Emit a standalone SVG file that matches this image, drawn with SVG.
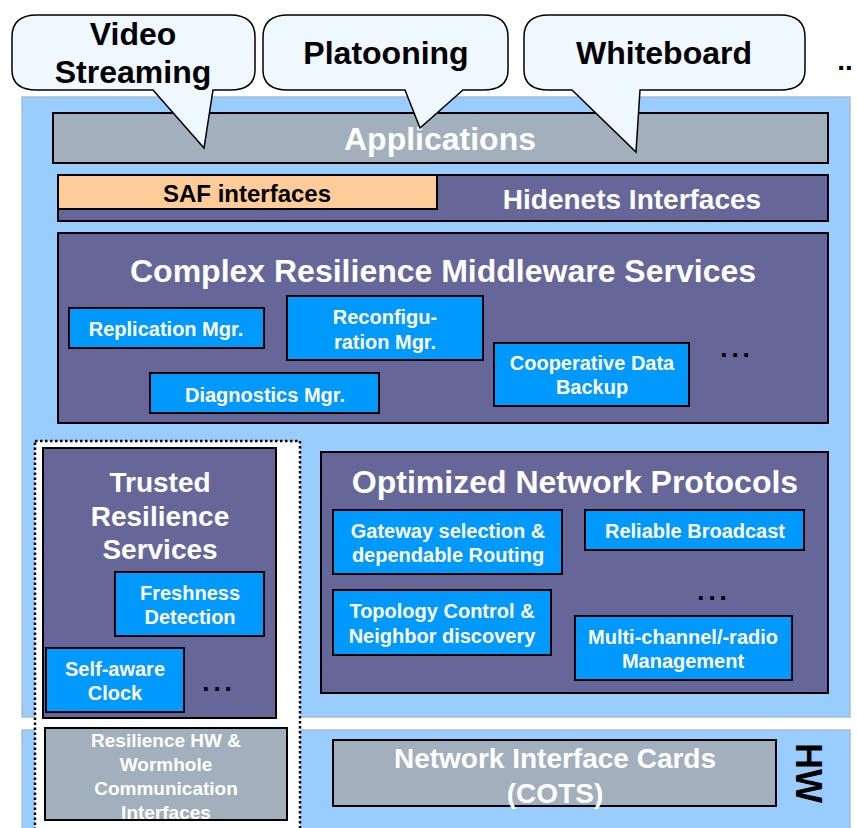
<svg xmlns="http://www.w3.org/2000/svg" width="857" height="828" viewBox="0 0 857 828">
<style>
text{font-family:"Liberation Sans",Arial,sans-serif;font-weight:bold;text-anchor:middle;dominant-baseline:central}
.panel{fill:#99CCFF;stroke:#A9BCD0;stroke-width:1.5}
.purple{fill:#666699;stroke:#000;stroke-width:2}
.blue{fill:#0099FF;stroke:#000;stroke-width:2}
.gray{fill:#A2AFBC;stroke:#000;stroke-width:2}
.bubble{fill:#F0F8FF;stroke:#000;stroke-width:1.5}
.w{fill:#fff}
.k{fill:#000}
.t32{font-size:32px}
.t28{font-size:28px}
.t24{font-size:24px}
.t20{font-size:20px}
.t19{font-size:19px}
.dots{font-size:26px;letter-spacing:4px}
</style>
<rect x="0" y="0" width="857" height="828" fill="#fff"/>
<g id="panel-main"><rect class="panel" x="22" y="97" width="828" height="620"/></g>
<g id="panel-hw"><rect class="panel" x="22" y="730" width="828" height="100"/></g>

<g id="applications">
<rect class="gray" x="53" y="113" width="775" height="50"/>
<text class="w t32" x="440" y="139">Applications</text>
</g>

<g id="bubble-video">
<path class="bubble" d="M37,15 L230,15 Q255,15 255,37 L255,70 Q255,90 230,90 L213,90 L204,148 L153,90 L37,90 Q12,90 12,70 L12,37 Q12,15 37,15 Z"/>
<text class="k t32" x="133" y="34">Video</text>
<text class="k t32" x="133" y="72">Streaming</text>
</g>
<g id="bubble-platooning">
<path class="bubble" d="M288,15 L483,15 Q508,15 508,37 L508,70 Q508,90 483,90 L463,90 L420,128 L405,90 L288,90 Q263,90 263,70 L263,37 Q263,15 288,15 Z"/>
<text class="k t32" x="386" y="53">Platooning</text>
</g>
<g id="bubble-whiteboard">
<path class="bubble" d="M549,15 L780,15 Q805,15 805,37 L805,70 Q805,90 780,90 L640,90 L636,152 L572,90 L549,90 Q524,90 524,70 L524,37 Q524,15 549,15 Z"/>
<text class="k t32" x="664" y="53">Whiteboard</text>
</g>
<text class="k t28" x="845" y="60">..</text>

<g id="hidenets-interfaces">
<rect class="purple" x="58" y="175" width="770" height="46"/>
<text class="w t28" x="632" y="199">Hidenets Interfaces</text>
</g>
<g id="saf-interfaces">
<rect fill="#FFCC99" stroke="#000" stroke-width="2" x="58" y="175" width="379" height="34"/>
<text class="k t24" x="247" y="193">SAF interfaces</text>
</g>

<g id="complex-resilience">
<rect class="purple" x="58" y="233" width="770" height="190"/>
<text class="w t32" x="443" y="271">Complex Resilience Middleware Services</text>
</g>
<g id="replication-mgr">
<rect class="blue" x="69" y="308" width="195" height="40"/>
<text class="w t20" x="166" y="329">Replication Mgr.</text>
</g>
<g id="reconfiguration-mgr">
<rect class="blue" x="287" y="296" width="196" height="64"/>
<text class="w t20" x="385" y="317">Reconfigu-</text>
<text class="w t20" x="385" y="342">ration Mgr.</text>
</g>
<g id="diagnostics-mgr">
<rect class="blue" x="150" y="373" width="229" height="40"/>
<text class="w t20" x="265" y="395">Diagnostics Mgr.</text>
</g>
<g id="cooperative-backup">
<rect class="blue" x="494" y="343" width="195" height="63"/>
<text class="w t20" x="592" y="363">Cooperative Data</text>
<text class="w t20" x="592" y="387">Backup</text>
</g>
<text class="k dots" x="737" y="348">...</text>

<g id="trusted-zone">
<rect fill="#fff" stroke="#000" stroke-width="2.5" stroke-dasharray="2.5,2.5" x="35" y="441" width="265" height="392"/>
</g>
<g id="trusted-resilience">
<rect class="purple" x="43" y="448" width="233" height="270"/>
<text class="w t28" x="160" y="482">Trusted</text>
<text class="w t28" x="160" y="516">Resilience</text>
<text class="w t28" x="160" y="549">Services</text>
</g>
<g id="freshness-detection">
<rect class="blue" x="115" y="572" width="149" height="64"/>
<text class="w t20" x="190" y="593">Freshness</text>
<text class="w t20" x="190" y="617">Detection</text>
</g>
<g id="self-aware-clock">
<rect class="blue" x="46" y="648" width="138" height="64"/>
<text class="w t20" x="115" y="669">Self-aware</text>
<text class="w t20" x="115" y="693">Clock</text>
</g>
<text class="k dots" x="219" y="682">...</text>

<g id="resilience-hw">
<rect class="gray" x="45" y="728" width="242" height="92"/>
<text class="w t19" x="166" y="740">Resilience HW &amp;</text>
<text class="w t19" x="166" y="764">Wormhole</text>
<text class="w t19" x="166" y="788">Communication</text>
<text class="w t19" x="166" y="812">Interfaces</text>
</g>

<g id="optimized-network">
<rect class="purple" x="321" y="452" width="507" height="241"/>
<text class="w t32" x="575" y="482">Optimized Network Protocols</text>
</g>
<g id="gateway-selection">
<rect class="blue" x="333" y="510" width="229" height="64"/>
<text class="w t20" x="448" y="531">Gateway selection &amp;</text>
<text class="w t20" x="448" y="555">dependable Routing</text>
</g>
<g id="reliable-broadcast">
<rect class="blue" x="585" y="510" width="219" height="40"/>
<text class="w t20" x="695" y="531">Reliable Broadcast</text>
</g>
<g id="topology-control">
<rect class="blue" x="333" y="590" width="218" height="65"/>
<text class="w t20" x="442" y="611">Topology Control &amp;</text>
<text class="w t20" x="442" y="636">Neighbor discovery</text>
</g>
<g id="multi-channel">
<rect class="blue" x="575" y="616" width="217" height="64"/>
<text class="w t20" x="683" y="637">Multi-channel/-radio</text>
<text class="w t20" x="683" y="661">Management</text>
</g>
<text class="k dots" x="714" y="591">...</text>

<g id="nic">
<rect class="gray" x="333" y="740" width="443" height="66"/>
<text class="w t28" x="555" y="758">Network Interface Cards</text>
<text class="w t28" x="555" y="793">(COTS)</text>
</g>
<g id="hw-label">
<text class="k" font-size="36" transform="translate(808,773) rotate(90)">HW</text>
</g>
<g id="connectors"></g>
</svg>
